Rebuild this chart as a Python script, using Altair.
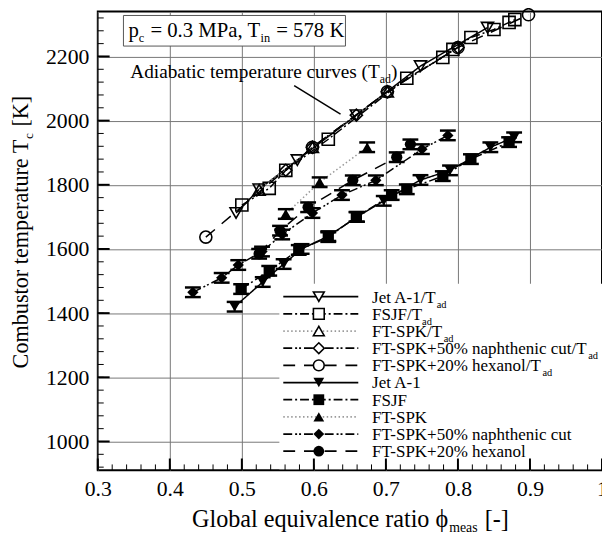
import altair as alt
import pandas as pd

# ---------------- data ----------------
# measured combustor temperatures
jet_phi = [0.490, 0.529, 0.558, 0.583, 0.620, 0.660, 0.697, 0.748, 0.789, 0.845, 0.878]
jet_T = [1420, 1497, 1553, 1600, 1640, 1700, 1750, 1815, 1845, 1917, 1948]
fsjf_phi = [0.499, 0.538, 0.579, 0.620, 0.659, 0.708, 0.729, 0.779, 0.818, 0.871]
fsjf_T = [1475, 1532, 1597, 1637, 1700, 1768, 1786, 1827, 1880, 1933]
ftspk_phi = [0.561, 0.608, 0.674]
ftspk_T = [1709, 1808, 1917]
naph_phi = [0.432, 0.472, 0.495, 0.528, 0.556, 0.598, 0.639, 0.686, 0.750, 0.786]
naph_T = [1465, 1510, 1550, 1592, 1645, 1712, 1768, 1814, 1911, 1954]
hex_phi = [0.524, 0.553, 0.592, 0.654, 0.715, 0.734]
hex_T = [1585, 1657, 1730, 1814, 1886, 1926]

# adiabatic flame temperatures
jet_ad_phi = [0.492, 0.524, 0.577, 0.659, 0.748, 0.841]
jet_ad_T = [1712, 1786, 1877, 2017, 2170, 2290]
fsjf_ad_phi = [0.500, 0.538, 0.561, 0.620, 0.729, 0.779, 0.793, 0.818, 0.850, 0.871, 0.879]
fsjf_ad_T = [1737, 1789, 1845, 1942, 2132, 2197, 2222, 2259, 2284, 2306, 2315]
ftspk_ad_phi = [0.524, 0.598, 0.702]
ftspk_ad_T = [1784, 1917, 2090]
naph_ad_phi = [0.561, 0.598, 0.659, 0.702, 0.800]
naph_ad_T = [1845, 1917, 2017, 2090, 2228]
hex_ad_phi = [0.450, 0.598, 0.702, 0.800, 0.898]
hex_ad_T = [1637, 1917, 2090, 2228, 2330]

x_ticks = [0.3, 0.4, 0.5, 0.6, 0.7, 0.8, 0.9, 1.0]
y_ticks = [1000, 1200, 1400, 1600, 1800, 2000, 2200]
x_minor = [round(0.3 + 0.02 * i, 2) for i in range(36)]
y_minor = [920 + 40 * i for i in range(36)]

legend_labels = ["Jet A-1/T", "FSJF/T", "FT-SPK/T", "FT-SPK+50% naphthenic cut/T",
                 "FT-SPK+20% hexanol/T", "Jet A-1", "FSJF", "FT-SPK",
                 "FT-SPK+50% naphthenic cut", "FT-SPK+20% hexanol"]
legend_subs = ["ad", "ad", "ad", "ad", "ad", "", "", "", "", ""]

# ---------------- layout ----------------
FONT = "Liberation Serif"
PW, PH = 511, 465
X0, Y0 = 99, 8   # page position of the plot area's top-left corner


def px(x):
    return x - X0


def py(y):
    return y - Y0


TW = {' ': 250, '(': 333, ')': 333, '+': 564, ',': 250, '-': 333, '.': 250,
      '/': 278, '%': 833, '=': 564, '[': 333, ']': 333, 'ϕ': 560}
for d in "0123456789":
    TW[d] = 500
TW.update(dict(zip("ABCDEFGHIJKLMNOPQRSTUVWXYZ",
                   [722, 667, 667, 722, 611, 556, 722, 722, 333, 389, 722, 611, 889, 722, 722,
                    556, 722, 667, 556, 611, 722, 722, 944, 722, 722, 611])))
TW.update(dict(zip("abcdefghijklmnopqrstuvwxyz",
                   [444, 500, 444, 500, 444, 333, 500, 500, 278, 278, 500, 278, 778, 500, 500,
                    500, 500, 333, 389, 278, 500, 500, 722, 500, 500, 444])))


def tw(s, size):
    return sum(TW.get(c, 500) for c in s) / 1000.0 * size


one = pd.DataFrame({"k": [0]})


def text_at(x, y, s, size, angle=0):
    return alt.Chart(one).mark_text(
        text=s, font=FONT, fontSize=size, align="left", baseline="alphabetic",
        angle=angle, color="black"
    ).encode(x=alt.value(px(x)), y=alt.value(py(y)))


def rich(x, y, segs, size, sub_size, sub_drop=5, vertical=False):
    """Draw text pieces one after the other; leading spaces become an explicit advance."""
    layers = []
    for s, is_sub in segs:
        fs = sub_size if is_sub else size
        lead = len(s) - len(s.lstrip(" "))
        adv = tw(" " * lead, fs) + 1.0 * lead
        s = s.lstrip(" ")
        if vertical:
            y -= adv
            layers.append(text_at(x + (sub_drop if is_sub else 0), y, s, fs, angle=270))
            y -= tw(s, fs)
        else:
            x += adv
            layers.append(text_at(x, y + (sub_drop if is_sub else 0), s, fs))
            x += tw(s, fs)
    return layers


def seg_width(segs, size, sub_size):
    return sum(tw(s, sub_size if b else size) for s, b in segs)


xs = alt.Scale(domain=[0.3, 1.0], nice=False, zero=False)
ys = alt.Scale(domain=[910, 2340], nice=False, zero=False)
x_axis = alt.Axis(values=x_ticks, title=None, grid=True, gridColor="#777", gridWidth=1,
                  ticks=False, domain=False, labelFont=FONT, labelFontSize=22,
                  labelColor="black", labelPadding=8, labelFlush=False,
                  labelExpr="datum.value == 1 ? '1' : format(datum.value, '.1f')")
y_axis = alt.Axis(values=y_ticks, title=None, grid=True, gridColor="#777", gridWidth=1,
                  ticks=False, domain=False, labelFont=FONT, labelFontSize=22,
                  labelColor="black", labelPadding=9, format="d")


def X(f):
    return alt.X(f + ":Q", scale=xs, axis=x_axis)


def Y(f):
    return alt.Y(f + ":Q", scale=ys, axis=y_axis)


layers = []

# inward tick marks
layers.append(alt.Chart(pd.DataFrame({"v": y_minor})).mark_rule(color="black", strokeWidth=1)
              .encode(y=Y("v"), x=alt.value(0), x2=alt.value(6)))
layers.append(alt.Chart(pd.DataFrame({"v": y_ticks})).mark_rule(color="black", strokeWidth=2)
              .encode(y=Y("v"), x=alt.value(0), x2=alt.value(12)))

# white legend panel (covers the grid, as in the reference)
layers.append(alt.Chart(one).mark_rect(fill="white", strokeWidth=0)
              .encode(x=alt.value(px(283)), x2=alt.value(PW),
                      y=alt.value(py(284)), y2=alt.value(PH - 1)))

layers.append(alt.Chart(pd.DataFrame({"v": x_minor})).mark_rule(color="black", strokeWidth=1)
              .encode(x=X("v"), y=alt.value(PH), y2=alt.value(PH - 6)))
layers.append(alt.Chart(pd.DataFrame({"v": x_ticks})).mark_rule(color="black", strokeWidth=2)
              .encode(x=X("v"), y=alt.value(PH), y2=alt.value(PH - 12)))

# series styles: dash, colour, shape
styles = {
    "jet": ([1, 0], "black", "triangle-down"),
    "fsjf": ([9, 3, 2, 3], "black", "square"),
    "ftspk": ([1.5, 2.5], "#999999", "triangle-up"),
    "naph": ([9, 3, 2, 2, 2, 3], "black", "diamond"),
    "hex": ([12, 9], "black", "circle"),
}

ad_series = [("jet", jet_ad_phi, jet_ad_T), ("fsjf", fsjf_ad_phi, fsjf_ad_T),
             ("ftspk", ftspk_ad_phi, ftspk_ad_T), ("naph", naph_ad_phi, naph_ad_T),
             ("hex", hex_ad_phi, hex_ad_T)]
meas_series = [("jet", jet_phi, jet_T), ("fsjf", fsjf_phi, fsjf_T),
               ("ftspk", ftspk_phi, ftspk_T), ("naph", naph_phi, naph_T),
               ("hex", hex_phi, hex_T)]

for key, ph, T in ad_series:
    dash, col, shp = styles[key]
    df = pd.DataFrame({"phi": ph, "T": T})
    layers.append(alt.Chart(df).mark_line(color=col, strokeDash=dash, strokeWidth=1.5)
                  .encode(x=X("phi"), y=Y("T")))
    layers.append(alt.Chart(df).mark_point(shape=shp, filled=False, color="black",
                                           strokeWidth=1.6, size=150, opacity=1)
                  .encode(x=X("phi"), y=Y("T")))

for key, ph, T in meas_series:
    dash, col, shp = styles[key]
    df = pd.DataFrame({"phi": ph, "T": T})
    base = alt.Chart(df).transform_calculate(
        lo="datum.T - 15", hi="datum.T + 15",
        xl="datum.phi - 0.011", xr="datum.phi + 0.011")
    layers.append(alt.Chart(df).mark_line(color=col, strokeDash=dash, strokeWidth=1.5)
                  .encode(x=X("phi"), y=Y("T")))
    layers.append(base.mark_rule(color="black", strokeWidth=2)
                  .encode(x=X("phi"), y=Y("lo"), y2="hi:Q"))
    layers.append(base.mark_rule(color="black", strokeWidth=2.5)
                  .encode(x=X("xl"), x2="xr:Q", y=Y("lo")))
    layers.append(base.mark_rule(color="black", strokeWidth=2.5)
                  .encode(x=X("xl"), x2="xr:Q", y=Y("hi")))
    layers.append(alt.Chart(df).mark_point(shape=shp, filled=True, color="black",
                                           size=130, opacity=1)
                  .encode(x=X("phi"), y=Y("T")))

# ---------------- annotation box ----------------
layers.append(alt.Chart(one).mark_rect(fill="white", stroke="#555", strokeWidth=1)
              .encode(x=alt.value(px(125)), x2=alt.value(px(350)),
                      y=alt.value(py(12)), y2=alt.value(py(43))))
layers += rich(130, 34, [("p", False), ("c", True), (" = 0.3 MPa, T", False), ("in", True),
                         (" = 578 K", False)], 21, 12.5)

# adiabatic annotation with leader
layers += rich(132, 75, [("Adiabatic temperature curves (T", False), ("ad", True), (")", False)],
               19.5, 12)
layers.append(alt.Chart(one).mark_rule(color="black", strokeWidth=1.5)
              .encode(x=alt.value(px(298)), y=alt.value(py(83)),
                      x2=alt.value(px(345)), y2=alt.value(py(112))))

# ---------------- legend ----------------
keys_order = ["jet", "fsjf", "ftspk", "naph", "hex"] * 2
for i, (lab, sub) in enumerate(zip(legend_labels, legend_subs)):
    dash, col, shp = styles[keys_order[i]]
    yc = 297 + 17.4 * i
    layers.append(alt.Chart(one).mark_rule(color=col, strokeDash=dash, strokeWidth=1.8)
                  .encode(x=alt.value(px(287)), x2=alt.value(px(363)),
                          y=alt.value(py(yc)), y2=alt.value(py(yc))))
    filled = i >= 5
    layers.append(alt.Chart(one).mark_point(shape=shp, filled=filled, color="black",
                                            fill="black" if filled else "white",
                                            strokeWidth=1.6, size=120, opacity=1)
                  .encode(x=alt.value(px(323)), y=alt.value(py(yc))))
    segs = [(lab, False)] + ([(sub, True)] if sub else [])
    layers += rich(377, yc + 6, segs, 17.2, 10.5, sub_drop=5)

# ---------------- axis titles ----------------
xt = [("Global equivalence ratio ϕ", False), ("meas", True), (" [-]", False)]
xw = seg_width(xt, 24.5, 14)
layers += rich(354.5 - xw / 2, 530, xt, 24.5, 14, sub_drop=5)

yt = [("Combustor temperature T", False), ("c", True), (" [K]", False)]
yw = seg_width(yt, 22.5, 13.5)
layers += rich(28, 232 + yw / 2, yt, 22.5, 13.5, sub_drop=5, vertical=True)

chart = alt.layer(*layers).properties(
    width=PW, height=PH,
    padding={"left": 91, "top": 0, "right": 0, "bottom": 67},
    autosize=alt.AutoSizeParams(type="none"),
    background="white",
).configure_view(stroke="black", strokeWidth=2)

chart.save("out.html", embed_options={"renderer": "svg", "actions": False})
